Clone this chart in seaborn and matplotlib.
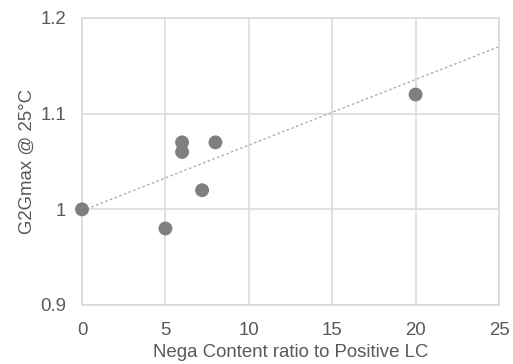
import matplotlib
matplotlib.use("Agg")
import matplotlib.pyplot as plt
import seaborn as sns
import pandas as pd

# Data
nega_ratio = [0, 5, 6, 6, 7.2, 8, 20]
g2gmax = [1.00, 0.98, 1.07, 1.06, 1.02, 1.07, 1.12]
trend_x = [0, 25]
trend_y = [0.9985, 1.170]
x_ticks = [0, 5, 10, 15, 20, 25]
y_ticks = [0.9, 1.0, 1.1, 1.2]
y_tick_labels = ["0.9", "1", "1.1", "1.2"]

sns.set_theme(style="white")
plt.rcParams['font.family'] = ['Liberation Sans', 'DejaVu Sans']

df = pd.DataFrame({"x": nega_ratio, "y": g2gmax})
tdf = pd.DataFrame({"x": trend_x, "y": trend_y})

fig = plt.figure(figsize=(5.13, 3.64), dpi=100)
ax = fig.add_axes([82/513, 1 - 305/364, (499-82)/513, (305-18)/364])

text_color = "#595959"
grid_color = "#d9d9d9"

sns.lineplot(data=tdf, x="x", y="y", ax=ax, color="#a6a6a6", linewidth=0.9,
             linestyle=(0, (2, 2)), zorder=2)
sns.scatterplot(data=df, x="x", y="y", ax=ax, s=100, color="#7f7f7f",
                edgecolor="none", linewidth=0, zorder=3)

ax.set_xlim(0, 25)
ax.set_ylim(0.9, 1.2)
ax.set_xticks(x_ticks)
ax.set_yticks(y_ticks)
ax.set_yticklabels(y_tick_labels)
ax.grid(True, color=grid_color, linewidth=1.1)
ax.set_axisbelow(True)
for sp in ax.spines.values():
    sp.set_color(grid_color)
    sp.set_linewidth(1.1)
ax.tick_params(axis="both", length=0, labelsize=13.4, labelcolor=text_color)
ax.tick_params(axis="x", pad=12.5)
ax.tick_params(axis="y", pad=11.5)
ax.set_xlabel("Nega Content ratio to Positive LC", fontsize=13.4, color=text_color, labelpad=3)
ax.set_ylabel("G2Gmax @ 25°C", fontsize=13.4, color=text_color, labelpad=3)

for p in ax.collections:
    p.set_clip_on(False)

fig.savefig("out.png", dpi=100)
